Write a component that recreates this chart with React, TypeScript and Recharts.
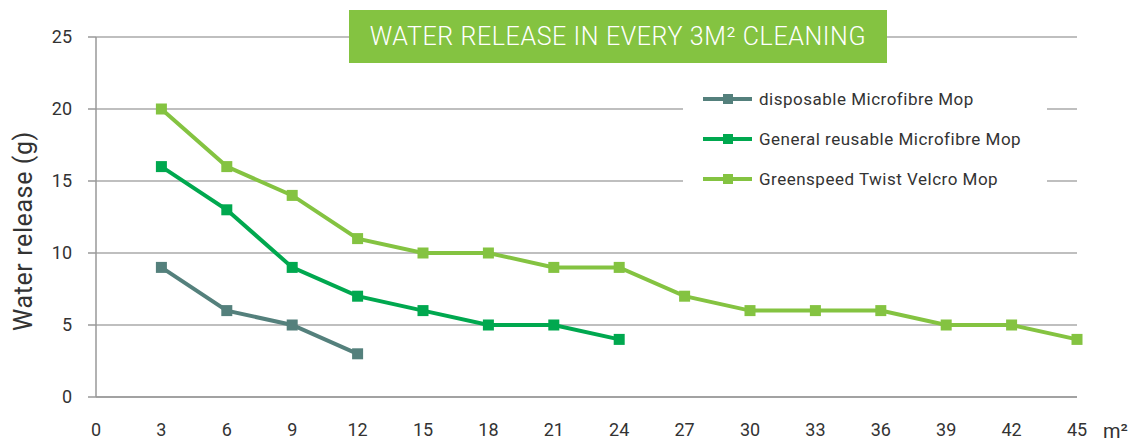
import { CartesianGrid, Line, LineChart, XAxis, YAxis } from "recharts"

const areas = [3, 6, 9, 12, 15, 18, 21, 24, 27, 30, 33, 36, 39, 42, 45]
const xTicks = [0, 3, 6, 9, 12, 15, 18, 21, 24, 27, 30, 33, 36, 39, 42, 45]
const yTicks = [0, 5, 10, 15, 20, 25]

const disposable = [9, 6, 5, 3]
const general = [16, 13, 9, 7, 6, 5, 5, 4]
const greenspeed = [20, 16, 14, 11, 10, 10, 9, 9, 7, 6, 6, 6, 5, 5, 4]

const series = [
  { key: "disposable", name: "disposable Microfibre Mop", color: "#54807c" },
  { key: "general", name: "General reusable Microfibre Mop", color: "#00a84f" },
  { key: "greenspeed", name: "Greenspeed Twist Velcro Mop", color: "#84c341" },
]

const rows = areas.map((a, i) => ({
  area: a,
  disposable: disposable[i],
  general: general[i],
  greenspeed: greenspeed[i],
}))

const FONT = "Roboto, 'DejaVu Sans', sans-serif"
const INK = "#333"

function SquareDot(props: { cx?: number; cy?: number; stroke?: string; value?: number }) {
  const { cx, cy, stroke, value } = props
  if (cx === undefined || cy === undefined || value === undefined || value === null) return null
  return <rect x={cx - 5.5} y={cy - 5.5} width={11} height={11} fill={stroke} />
}

// rotated axis title, sitting a bit below the middle of the axis like the original
function YTitle(props: { viewBox?: { x: number; y: number; width: number; height: number } }) {
  const vb = props.viewBox
  if (!vb) return null
  const x = vb.x + 23
  const y = vb.y + vb.height / 2 + 14
  return (
    <text
      x={x}
      y={y}
      transform={`rotate(-90 ${x} ${y})`}
      textAnchor="middle"
      dominantBaseline="central"
      fill={INK}
      fontSize={25}
      letterSpacing={0.6}
    >
      Water release (g)
    </text>
  )
}

// legend sits on a white card that hides the gridlines behind it
function LegendBox() {
  return (
    <div
      style={{
        position: "absolute",
        left: 683,
        top: 79,
        width: 364,
        background: "#fff",
        fontFamily: FONT,
      }}
    >
      {series.map((s) => (
        <div key={s.key} style={{ display: "flex", alignItems: "center", height: 40 }}>
          <svg width={56} height={12} style={{ marginLeft: 20 }}>
            <line x1={0} y1={6} x2={49} y2={6} stroke={s.color} strokeWidth={4} />
            <rect x={20} y={1} width={10} height={10} fill={s.color} />
          </svg>
          <span style={{ fontSize: 17, letterSpacing: 0.5, color: INK }}>{s.name}</span>
        </div>
      ))}
    </div>
  )
}

export default function App() {
  return (
    <div style={{ position: "absolute", left: 0, top: 0, width: 1133, height: 444, background: "#fff" }}>
      <LineChart
        width={1133}
        height={444}
        data={rows}
        margin={{ top: 37, right: 56, left: 0, bottom: 0 }}
        style={{ fontFamily: FONT }}
      >
        <CartesianGrid vertical={false} stroke="#aaa" strokeWidth={1.5} />
        <XAxis
          dataKey="area"
          type="number"
          domain={[0, 45]}
          ticks={xTicks}
          interval={0}
          height={47}
          tickLine={false}
          tickSize={0}
          tickMargin={26}
          axisLine={{ stroke: "#999", strokeWidth: 1.5 }}
          tick={{ fill: INK, fontSize: 18 }}
        />
        <YAxis
          type="number"
          domain={[0, 25]}
          ticks={yTicks}
          interval={0}
          width={96}
          tickSize={8}
          tickMargin={16}
          tickLine={{ stroke: "#999", strokeWidth: 1.5 }}
          axisLine={{ stroke: "#999", strokeWidth: 1.5 }}
          tick={{ fill: INK, fontSize: 18 }}
          label={<YTitle />}
        />
        {series.map((s) => (
          <Line
            key={s.key}
            dataKey={s.key}
            name={s.name}
            stroke={s.color}
            strokeWidth={4}
            dot={<SquareDot />}
            activeDot={false}
            isAnimationActive={false}
          />
        ))}
      </LineChart>
      <LegendBox />
      <div
        style={{
          position: "absolute",
          left: 349,
          top: 10,
          width: 538,
          height: 53,
          background: "#84c341",
          color: "#fff",
          fontFamily: FONT,
          fontSize: 25,
          fontWeight: 300,
          letterSpacing: 0.6,
          display: "flex",
          alignItems: "center",
          justifyContent: "center",
        }}
      >
        WATER RELEASE IN EVERY 3M² CLEANING
      </div>
      <div style={{ position: "absolute", left: 1103, top: 419, fontFamily: FONT, fontSize: 20, color: INK }}>m²</div>
    </div>
  )
}
